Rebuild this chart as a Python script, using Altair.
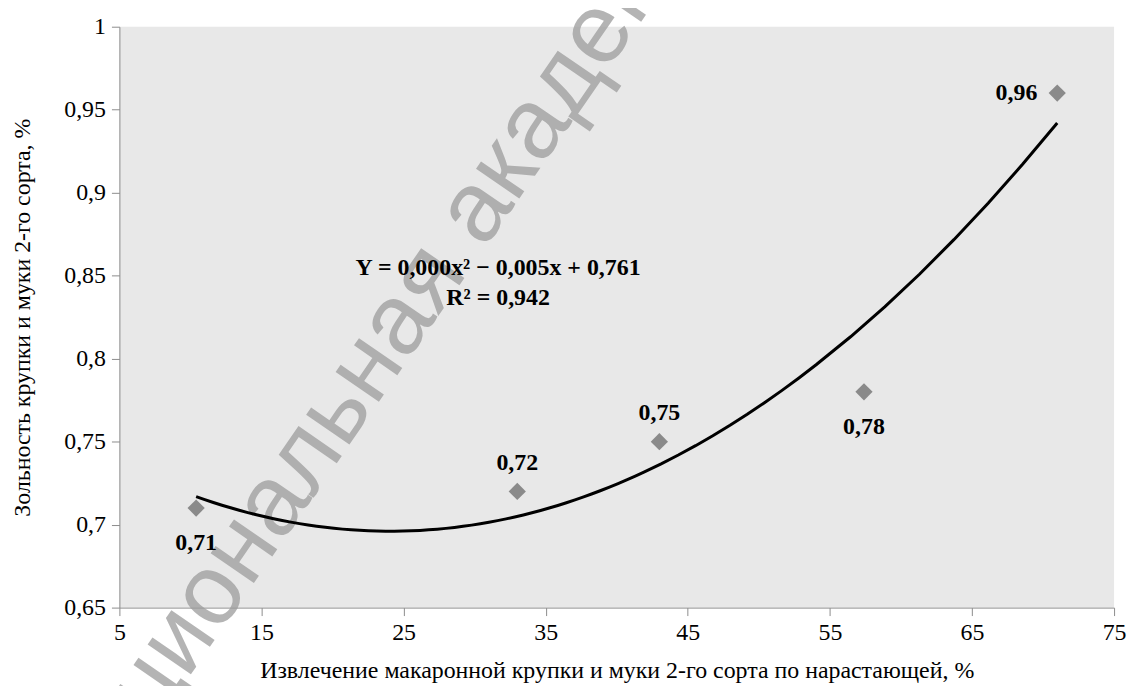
import altair as alt
import pandas as pd

# Data
extraction = [10.4, 33.0, 43.0, 57.4, 71.0]   # %, cumulative extraction
ash = [0.71, 0.72, 0.75, 0.78, 0.96]           # %, ash content
labels = ["0,71", "0,72", "0,75", "0,78", "0,96"]

x_ticks = [5, 15, 25, 35, 45, 55, 65, 75]
y_ticks = [0.65, 0.7, 0.75, 0.8, 0.85, 0.9, 0.95, 1.0]

equation = "Y = 0,000x² − 0,005x + 0,761"
r2_text = "R² = 0,942"
watermark_a = "Национальная"
watermark_b = "академия"

x_title = "Извлечение макаронной крупки и муки 2-го сорта по нарастающей, %"
y_title = "Зольность крупки и муки 2-го сорта, %"

df = pd.DataFrame({"x": extraction, "y": ash, "label": labels})
df["i"] = range(len(df))

FONT = "Liberation Serif"

xs = alt.Scale(domain=[5, 75], nice=False, zero=False)
ys = alt.Scale(domain=[0.65, 1.0], nice=False, zero=False)

x_axis = alt.Axis(values=x_ticks, title=x_title, titlePadding=14,
                  labelPadding=5, labelFont=FONT, titleFont=FONT)
y_axis = alt.Axis(values=y_ticks, title=y_title, titlePadding=29,
                  labelPadding=6, labelFont=FONT, titleFont=FONT,
                  labelExpr="replace(format(datum.value, '~g'), '.', ',')")

base = alt.Chart(df)

wm_style = dict(font="Liberation Sans", fontSize=100, angle=304.6,
                baseline="middle", color="#9c9c9c", opacity=0.75)
wm1 = alt.Chart(pd.DataFrame({"t": [watermark_a]})).mark_text(
    align="right", **wm_style
).encode(x=alt.value(326), y=alt.value(230), text="t:N")
wm2 = alt.Chart(pd.DataFrame({"t": [watermark_b]})).mark_text(
    align="left", **wm_style
).encode(x=alt.value(342), y=alt.value(207), text="t:N")

points = base.mark_point(shape="diamond", filled=True, size=300,
                         color="#8a8a8a", opacity=1).encode(
    x=alt.X("x:Q", scale=xs, axis=x_axis),
    y=alt.Y("y:Q", scale=ys, axis=y_axis),
)

trend = base.transform_regression("x", "y", method="poly", order=2).mark_line(
    color="black", strokeWidth=3
).encode(x=alt.X("x:Q", scale=xs, axis=x_axis),
         y=alt.Y("y:Q", scale=ys, axis=y_axis))

txt = dict(font=FONT, fontSize=24, fontWeight="bold", color="black")
lab_below = base.transform_filter("datum.i == 0 || datum.i == 3").mark_text(
    dy=35, **txt).encode(x="x:Q", y="y:Q", text="label:N")
lab_above = base.transform_filter("datum.i == 1 || datum.i == 2").mark_text(
    dy=-29, **txt).encode(x="x:Q", y="y:Q", text="label:N")
lab_left = base.transform_filter("datum.i == 4").mark_text(
    dx=-20, align="right", **txt).encode(x="x:Q", y="y:Q", text="label:N")

ann = pd.DataFrame({"x": [31.65, 31.65], "y": [0.8544, 0.8365],
                    "t": [equation, r2_text]})
eq = alt.Chart(ann).mark_text(**txt).encode(
    x=alt.X("x:Q", scale=xs), y=alt.Y("y:Q", scale=ys), text="t:N")

chart = alt.layer(wm1, wm2, points, trend, lab_below, lab_above, lab_left, eq).properties(
    width=1000, height=584,
    autosize=alt.AutoSizeParams(type="none"),
    padding={"left": 112, "top": 17, "right": 13, "bottom": 77},
).configure(
    font=FONT
).configure_view(
    fill="#e8e8e8", stroke=None
).configure_axis(
    grid=False, labelFont=FONT, labelFontSize=24, labelColor="black",
    titleFont=FONT, titleFontSize=24, titleFontWeight="normal",
    titleColor="black", tickSize=8, tickColor="#8c8c8c",
    domainColor="#8c8c8c", labelFlush=False
)

chart.save("out.html", embed_options={"renderer": "svg", "actions": False})
